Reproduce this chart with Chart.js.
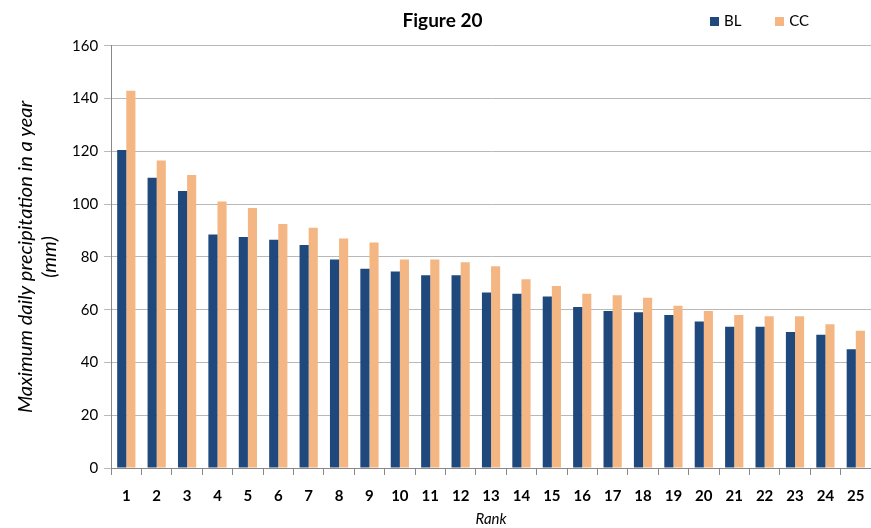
<!DOCTYPE html>
<html>
<head>
	<title>Figure 20</title>
	<meta charset="utf-8" />
	<script src="https://cdn.jsdelivr.net/npm/chart.js@4.4.0/dist/chart.umd.min.js"></script>
	<style>
		body { margin: 0; background: #fff; }
		#wrap { position: relative; width: 871px; height: 528px; }
		#legend { position: absolute; top: 11px; left: 710px; font: 15px Lato, sans-serif; color: #000; }
		#legend span.item { display: inline-block; margin-right: 30px; }
		#legend i { display: inline-block; width: 9px; height: 9px; margin-right: 5px; }
	</style>
</head>
<body>
<div id="wrap">
	<canvas id="myChart" width="871" height="528"></canvas>
	<!-- legend drawn as html, sits next to the title -->
	<div id="legend">
		<span class="item"><i style="background:#1f497d"></i>BL</span>
		<span class="item"><i style="background:#f4b683"></i>CC</span>
	</div>
</div>

<script type="text/javascript">
// data
var ranks = ['1','2','3','4','5','6','7','8','9','10','11','12','13','14','15','16','17','18','19','20','21','22','23','24','25'];
var bl = [120.5, 110, 105, 88.5, 87.5, 86.5, 84.5, 79, 75.5, 74.5, 73, 73, 66.5, 66, 65, 61, 59.5, 59, 58, 55.5, 53.5, 53.5, 51.5, 50.5, 45];
var cc = [143, 116.5, 111, 101, 98.5, 92.5, 91, 87, 85.5, 79, 79, 78, 76.5, 71.5, 69, 66, 65.5, 64.5, 61.5, 59.5, 58, 57.5, 57.5, 54.5, 52];

Chart.defaults.font.family = 'Lato, sans-serif';
Chart.defaults.color = '#000';

var ctx = document.getElementById('myChart').getContext('2d');
var chart = new Chart(ctx, {
	type: 'bar',
	data: {
		labels: ranks,
		datasets: [
			{ label: 'BL', data: bl, backgroundColor: '#1f497d' },
			{ label: 'CC', data: cc, backgroundColor: '#f4b683' }
		]
	},
	options: {
		responsive: false,
		animation: false,
		layout: { padding: { left: 14, right: 0, top: 0, bottom: 0 } },
		datasets: { bar: { categoryPercentage: 0.6, barPercentage: 1.0 } },
		plugins: {
			legend: { display: false },
			tooltip: { enabled: false },
			title: {
				display: true,
				text: 'Figure 20',
				font: { size: 19, weight: 'bold' },
				padding: { top: 9, bottom: 14 }
			}
		},
		scales: {
			x: {
				grid: { display: true, drawOnChartArea: false, offset: true, color: '#888', tickLength: 7 },
				border: { color: '#888' },
				ticks: { font: { size: 15, weight: 'bold' }, padding: 12, maxRotation: 0 },
				title: { display: true, text: 'Rank', font: { size: 15, style: 'italic' }, padding: { top: -7, bottom: 0 } },
				// let the plot run to the right edge like the original
				afterFit: function (scale) { scale.paddingRight = 0; }
			},
			y: {
				min: 0,
				max: 160,
				grid: { color: '#b8b8b8', tickLength: 7 },
				border: { color: '#888' },
				ticks: { stepSize: 20, font: { size: 15 }, padding: 6 },
				title: {
					display: true,
					text: ['Maximum daily precipitation in a year', '(mm)'],
					font: { size: 20, style: 'italic' },
					padding: { top: 0, bottom: 4 }
				}
			}
		}
	}
});
</script>
</body>
</html>
